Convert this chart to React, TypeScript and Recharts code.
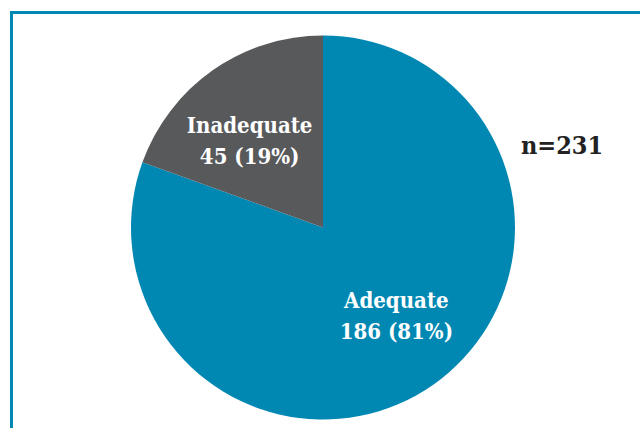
import React from "react";
import { PieChart, Pie, Cell } from "recharts";

const categories = ["Adequate", "Inadequate"];
const counts = [186, 45];
const percentLabels = ["81%", "19%"];
const sampleLabel = "n=231";
const colors = ["#0088B3", "#58595B"];

const data = categories.map((name, i) => ({ name, value: counts[i], pct: percentLabels[i] }));

const FONT = "'DejaVu Serif Condensed', 'DejaVu Serif', serif";
const RAD = Math.PI / 180;

const renderLabel = (props: any) => {
  const { cx, cy, midAngle, index } = props;
  const a = (midAngle + 5) * RAD;
  const r = 114;
  const x = cx + r * Math.cos(-a);
  const y = cy + r * Math.sin(-a);
  const d = data[index];
  return (
    <text
      x={x}
      y={y}
      fill="#ffffff"
      textAnchor="middle"
      fontFamily={FONT}
      fontWeight="bold"
      fontSize={22}
      style={{ fontStretch: "condensed" }}
    >
      <tspan x={x} dy={-7}>{d.name}</tspan>
      <tspan x={x} dy={31}>{`${d.value} (${d.pct})`}</tspan>
    </text>
  );
};

export default function App() {
  return (
    <div
      style={{
        position: "absolute",
        left: 0,
        top: 0,
        width: 640,
        height: 428,
        overflow: "hidden",
        background: "#ffffff",
      }}
    >
      <div
        style={{
          position: "absolute",
          left: 10,
          top: 11,
          width: 800,
          height: 600,
          border: "3px solid #0088B3",
          boxSizing: "border-box",
        }}
      />
      <div style={{ position: "absolute", left: 0, top: 0 }}>
        <PieChart width={640} height={428} margin={{ top: 0, right: 0, bottom: 0, left: 0 }}>
          <Pie
            data={data}
            dataKey="value"
            nameKey="name"
            cx={323}
            cy={227.5}
            outerRadius={192}
            startAngle={90}
            endAngle={-270}
            stroke="none"
            label={renderLabel}
            labelLine={false}
            isAnimationActive={false}
          >
            {data.map((d, i) => (
              <Cell key={d.name} fill={colors[i]} />
            ))}
          </Pie>
        </PieChart>
      </div>
      <div
        style={{
          position: "absolute",
          left: 562,
          top: 158,
          transform: "translate(-50%, -100%)",
          fontFamily: FONT,
          fontWeight: "bold",
          fontSize: 25,
          lineHeight: "25px",
          color: "#222222",
          whiteSpace: "nowrap",
        }}
      >
        {sampleLabel}
      </div>
    </div>
  );
}
